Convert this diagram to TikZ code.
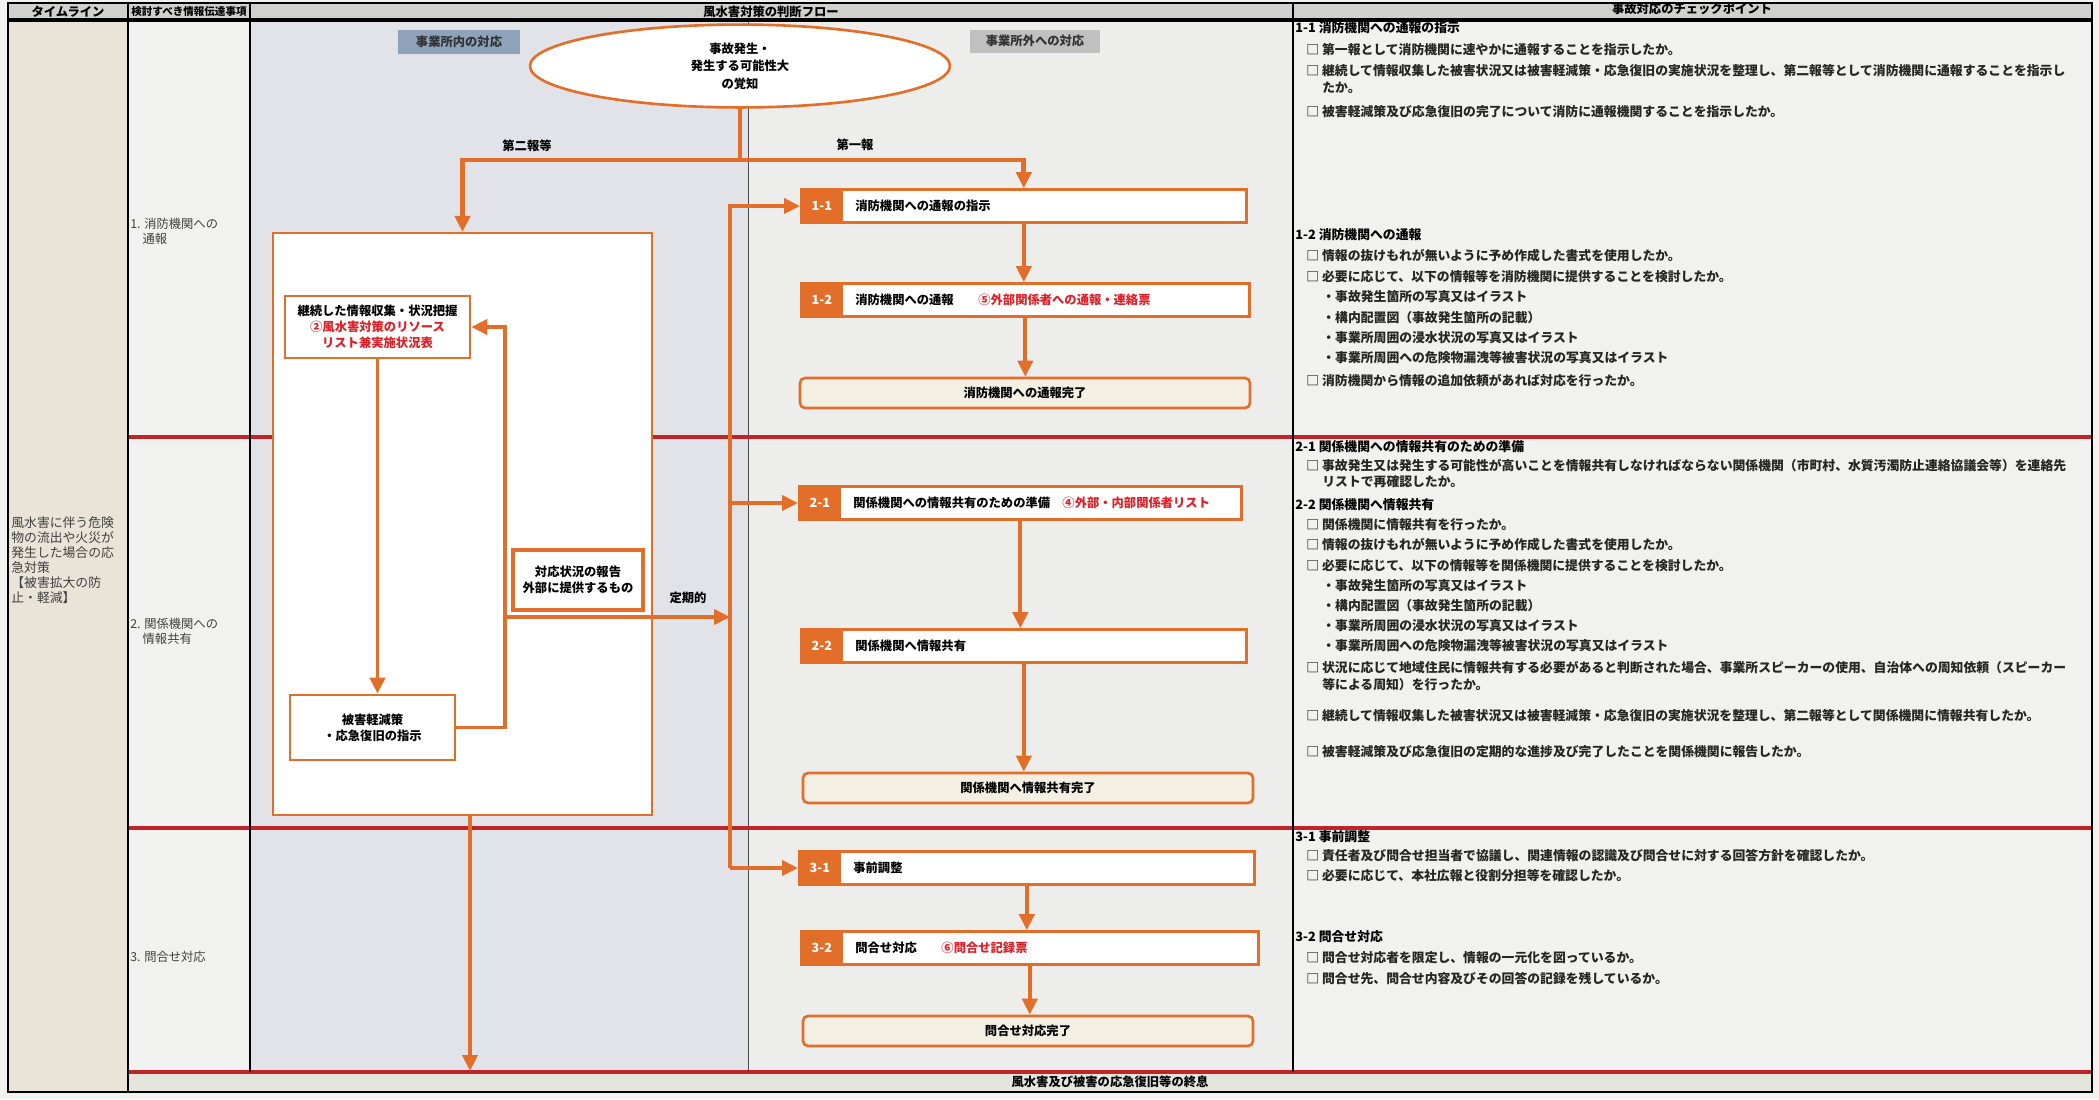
\documentclass[tikz,border=0pt]{standalone}
\usepackage{fontspec}
\setmainfont{Noto Sans CJK JP}
\usetikzlibrary{shapes,arrows.meta,positioning}

\definecolor{flow}{RGB}{226,110,42}
\definecolor{rowred}{RGB}{190,36,40}
\definecolor{docred}{RGB}{222,32,40}
\definecolor{paper}{RGB}{241,241,239}
\definecolor{inzone}{RGB}{226,227,233}
\definecolor{outzone}{RGB}{237,237,236}
\definecolor{timecol}{RGB}{234,227,216}
\definecolor{headgray}{RGB}{208,208,206}
\definecolor{endrow}{RGB}{228,230,222}
\definecolor{donefill}{RGB}{243,239,227}
\definecolor{inlabel}{RGB}{142,163,186}
\definecolor{outlabel}{RGB}{192,192,192}

\newcommand{\docref}[1]{\textcolor{docred}{#1}}

\begin{document}
\begin{tikzpicture}[x=0.2mm, y=-0.2mm,
	every node/.style={font=\fontsize{7.2}{9.5}\selectfont},
	colhead/.style={font=\fontsize{7}{9}\selectfont\bfseries},
	chk/.style={anchor=west, inner sep=0pt, text=black!85, font=\fontsize{7.3}{9}\selectfont\bfseries},
	chkhead/.style={anchor=west, inner sep=0pt, font=\fontsize{7.3}{9}\selectfont\bfseries},
	stepbox/.style={draw=flow, line width=1.5pt, fill=white, anchor=west, minimum height=6.6mm, inner sep=0pt},
	tag/.style={fill=flow, text=white, anchor=west, minimum width=8.6mm, minimum height=7.1mm, inner sep=0pt, font=\fontsize{7.2}{9}\selectfont\bfseries},
	steptext/.style={anchor=west, inner sep=0pt, font=\fontsize{7}{9}\selectfont\bfseries},
	donebox/.style={draw=flow, line width=1.5pt, fill=donefill, rounded corners=1mm, minimum width=90mm, minimum height=6mm, font=\fontsize{7}{9}\selectfont\bfseries},
	inbox/.style={draw=flow, line width=1.5pt, fill=white, align=center, font=\fontsize{7}{9}\selectfont\bfseries},
	link/.style={draw=flow, line width=2.2pt, -{Triangle[length=3.2mm, width=3mm]}},
	rowline/.style={draw=rowred, line width=2.2pt},
]
	% background and table
	\useasboundingbox (0,0) rectangle (2099,1099);
	\fill[paper] (0,0) rectangle (2099,1099);
	\fill[headgray] (8,3) rectangle (2092,20);
	\fill[timecol] (8,20) rectangle (128,1092);
	\fill[inzone] (250,20) rectangle (748,1072);
	\fill[outzone] (748,20) rectangle (1293,1072);
	\fill[endrow] (128,1072) rectangle (2092,1092);
	\draw[black!70, line width=0.4pt] (748,20) -- (748,1072);
	\foreach \y in {437,828,1072}
		\draw[rowline] (128,\y) -- (2092,\y);
	\draw[black, line width=1pt] (8,3) rectangle (2092,1092);
	\draw[black, line width=2.2pt] (8,20) -- (2092,20);
	\draw[black, line width=0.9pt] (128,3) -- (128,1092);
	\foreach \x in {250,1293}
		\draw[black, line width=0.9pt] (\x,3) -- (\x,1072);

	\node[colhead] (hTime) at (68,11.5) {タイムライン};
	\node[colhead, font=\fontsize{6}{8}\selectfont\bfseries] (hItem) at (189,11.5) {検討すべき情報伝達事項};
	\node[colhead] (hFlow) at (771,11.5) {風水害対策の判断フロー};
	\node[colhead] (hCheck) at (1692,9) {事故対応のチェックポイント};
	\node[colhead] (hEnd) at (1110,1082) {風水害及び被害の応急復旧等の終息};

	% left columns
	\node[anchor=north west, align=left, inner sep=0pt, text=black!75, font=\fontsize{7.3}{8.6}\selectfont] (timeline) at (11,516)
		{風水害に伴う危険\\物の流出や火災が\\発生した場合の応\\急対策\\【被害拡大の防\\止・軽減】};
	\node[anchor=north west, align=left, inner sep=0pt, text=black!75, font=\fontsize{7}{8.6}\selectfont] (item1) at (130,218) {1. 消防機関への\\\hspace*{1em}通報};
	\node[anchor=north west, align=left, inner sep=0pt, text=black!75, font=\fontsize{7}{8.6}\selectfont] (item2) at (130,618) {2. 関係機関への\\\hspace*{1em}情報共有};
	\node[anchor=west, inner sep=0pt, text=black!75, font=\fontsize{7}{8.6}\selectfont] (item3) at (130,957) {3. 問合せ対応};

	% flow: start
	\node[fill=inlabel, minimum width=24.4mm, minimum height=4.8mm, inner sep=0pt, font=\fontsize{7}{9}\selectfont\bfseries, text=black!80] (inside) at (459,42) {事業所内の対応};
	\node[fill=outlabel, minimum width=26mm, minimum height=4.6mm, inner sep=0pt, font=\fontsize{7}{9}\selectfont\bfseries, text=black!80] (outside) at (1035,41) {事業所外への対応};
	\node[ellipse, draw=flow, line width=1.5pt, fill=white, minimum width=84mm, minimum height=15.6mm, align=center, font=\fontsize{7}{10}\selectfont\bfseries] (occur) at (740,66) {事故発生・\\発生する可能性大\\の覚知};

	% flow: inside the site
	\node[draw=flow, line width=1.2pt, fill=white, minimum width=75.8mm, minimum height=116.4mm] (inbox) at (462.5,524) {};
	\node[inbox, minimum width=37mm, minimum height=12.4mm] (gather) at (377.5,327) {継続した情報収集・状況把握\\\docref{②風水害対策のリソース}\\\docref{リスト兼実施状況表}};
	\node[inbox, minimum width=33mm, minimum height=13mm] (mitig) at (372.5,727.5) {被害軽減策\\・応急復旧の指示};
	\node[inbox, line width=2.4pt, minimum width=26mm, minimum height=12mm] (report) at (578,580) {対応状況の報告\\外部に提供するもの};

	% flow: outside the site
	\node[stepbox, minimum width=89mm] (b11) at (800,206) {};
	\node[tag] (t11) at (b11.west) {1-1};
	\node[steptext] (x11) at (855,206) {消防機関への通報の指示};
	\node[stepbox, minimum width=89.6mm] (b12) at (800,300) {};
	\node[tag] (t12) at (b12.west) {1-2};
	\node[steptext] (x12) at (855,300) {消防機関への通報\hspace{2em}\docref{⑤外部関係者への通報・連絡票}};
	\node[donebox] (d1) at (1025,393) {消防機関への通報完了};

	\node[stepbox, minimum width=88.4mm] (b21) at (798,503) {};
	\node[tag] (t21) at (b21.west) {2-1};
	\node[steptext] (x21) at (853,503) {関係機関への情報共有のための準備\hspace{1em}\docref{④外部・内部関係者リスト}};
	\node[stepbox, minimum width=89mm] (b22) at (800,646) {};
	\node[tag] (t22) at (b22.west) {2-2};
	\node[steptext] (x22) at (855,646) {関係機関へ情報共有};
	\node[donebox] (d2) at (1028,788) {関係機関へ情報共有完了};

	\node[stepbox, minimum width=91mm] (b31) at (798,868) {};
	\node[tag] (t31) at (b31.west) {3-1};
	\node[steptext] (x31) at (853,868) {事前調整};
	\node[stepbox, minimum width=91.4mm] (b32) at (800,948) {};
	\node[tag] (t32) at (b32.west) {3-2};
	\node[steptext] (x32) at (855,948) {問合せ対応\hspace{2em}\docref{⑥問合せ記録票}};
	\node[donebox] (d3) at (1028,1031) {問合せ対応完了};

	% connectors
	\coordinate (split) at (740,160);
	\coordinate (loop) at (505,617);
	\coordinate (trunktop) at (730,206);
	\coordinate (trunkbot) at (730,868);
	\coordinate (finish) at (470,1071);
	\draw[draw=flow, line width=2.8pt] (occur.south) -- (split);
	\draw[link, line width=2.8pt] (split) -| (inbox.north);
	\draw[link, line width=2.8pt] (split) -| (b11.north);
	\node[font=\fontsize{7}{9}\selectfont\bfseries] (second) at (527,146) {第二報等};
	\node[font=\fontsize{7}{9}\selectfont\bfseries] (first) at (855,145) {第一報};

	\draw[link] (gather.south) -- (gather.south |- mitig.north);
	\draw[link] (mitig.east) -| (loop) |- (gather.east);
	\draw[link] (loop) -- (loop -| trunktop);
	\node[font=\fontsize{7}{9}\selectfont\bfseries] (periodic) at (688,598) {定期的};
	\draw[link] (inbox.south -| finish) -- (finish);

	\draw[link] (trunkbot) |- (b11.west);
	\draw[link] (b21.west -| trunktop) -- (b21.west);
	\draw[link] (trunkbot) -- (b31.west);

	\draw[link] (b11.south) -- (b11.south |- b12.north);
	\draw[link] (b12.south) -- (b12.south |- d1.north);
	\draw[link] (b21.south) -- (b21.south |- b22.north);
	\draw[link] (b22.south) -- (b22.south |- d2.north);
	\draw[link] (b31.south) -- (b31.south |- b32.north);
	\draw[link] (b32.south) -- (b32.south |- d3.north);

	% checkpoints
	\node[chkhead] (h11) at (1295,28) {1-1 消防機関への通報の指示};
	\node[chk] (c11a) at (1306,50) {□ 第一報として消防機関に速やかに通報することを指示したか。};
	\node[chk] (c11b) at (1306,71) {□ 継続して情報収集した被害状況又は被害軽減策・応急復旧の実施状況を整理し、第二報等として消防機関に通報することを指示し};
	\node[chk] (c11b2) at (1322,88) {たか。};
	\node[chk] (c11c) at (1306,112) {□ 被害軽減策及び応急復旧の完了について消防に通報機関することを指示したか。};

	\node[chkhead] (h12) at (1295,235) {1-2 消防機関への通報};
	\node[chk] (c12a) at (1306,256) {□ 情報の抜けもれが無いように予め作成した書式を使用したか。};
	\node[chk] (c12b) at (1306,277) {□ 必要に応じて、以下の情報等を消防機関に提供することを検討したか。};
	\node[chk] (c12b1) at (1322,297) {・事故発生箇所の写真又はイラスト};
	\node[chk] (c12b2) at (1322,318) {・構内配置図（事故発生箇所の記載）};
	\node[chk] (c12b3) at (1322,338) {・事業所周囲の浸水状況の写真又はイラスト};
	\node[chk] (c12b4) at (1322,358) {・事業所周囲への危険物漏洩等被害状況の写真又はイラスト};
	\node[chk] (c12c) at (1306,380) {□ 消防機関から情報の追加依頼があれば対応を行ったか。};

	\node[chkhead] (h21) at (1295,447) {2-1 関係機関への情報共有のための準備};
	\node[chk] (c21a) at (1306,466) {□ 事故発生又は発生する可能性が高いことを情報共有しなければならない関係機関（市町村、水質汚濁防止連絡協議会等）を連絡先};
	\node[chk] (c21a2) at (1322,482) {リストで再確認したか。};

	\node[chkhead] (h22) at (1295,505) {2-2 関係機関へ情報共有};
	\node[chk] (c22a) at (1306,525) {□ 関係機関に情報共有を行ったか。};
	\node[chk] (c22b) at (1306,545) {□ 情報の抜けもれが無いように予め作成した書式を使用したか。};
	\node[chk] (c22c) at (1306,566) {□ 必要に応じて、以下の情報等を関係機関に提供することを検討したか。};
	\node[chk] (c22c1) at (1322,586) {・事故発生箇所の写真又はイラスト};
	\node[chk] (c22c2) at (1322,606) {・構内配置図（事故発生箇所の記載）};
	\node[chk] (c22c3) at (1322,626) {・事業所周囲の浸水状況の写真又はイラスト};
	\node[chk] (c22c4) at (1322,646) {・事業所周囲への危険物漏洩等被害状況の写真又はイラスト};
	\node[chk] (c22d) at (1306,668) {□ 状況に応じて地域住民に情報共有する必要があると判断された場合、事業所スピーカーの使用、自治体への周知依頼（スピーカー};
	\node[chk] (c22d2) at (1322,685) {等による周知）を行ったか。};
	\node[chk] (c22e) at (1306,716) {□ 継続して情報収集した被害状況又は被害軽減策・応急復旧の実施状況を整理し、第二報等として関係機関に情報共有したか。};
	\node[chk] (c22f) at (1306,752) {□ 被害軽減策及び応急復旧の定期的な進捗及び完了したことを関係機関に報告したか。};

	\node[chkhead] (h31) at (1295,837) {3-1 事前調整};
	\node[chk] (c31a) at (1306,856) {□ 責任者及び問合せ担当者で協議し、関連情報の認識及び問合せに対する回答方針を確認したか。};
	\node[chk] (c31b) at (1306,876) {□ 必要に応じて、本社広報と役割分担等を確認したか。};

	\node[chkhead] (h32) at (1295,937) {3-2 問合せ対応};
	\node[chk] (c32a) at (1306,958) {□ 問合せ対応者を限定し、情報の一元化を図っているか。};
	\node[chk] (c32b) at (1306,979) {□ 問合せ先、問合せ内容及びその回答の記録を残しているか。};
\end{tikzpicture}
\end{document}
